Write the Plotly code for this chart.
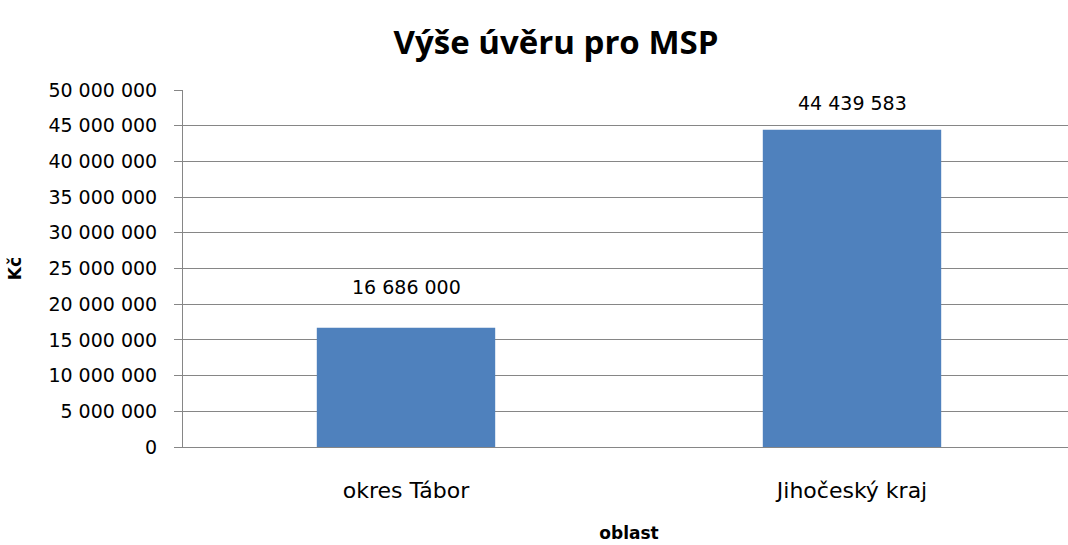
import plotly.graph_objects as go

categories = ["okres Tábor", "Jihočeský kraj"]
values = [16686000, 44439583]
label_texts = ["16 686 000", "44 439 583"]
tick_vals = [0, 5000000, 10000000, 15000000, 20000000, 25000000, 30000000, 35000000, 40000000, 45000000, 50000000]

FONT = "DejaVu Sans, sans-serif"
label_shifts = [28, 14]

fig = go.Figure()
fig.add_trace(go.Bar(
    x=categories, y=values, width=0.4,
    marker=dict(color="#4F81BD", line=dict(width=0)),
    hoverinfo="skip",
))
for c, v, t, s in zip(categories, values, label_texts, label_shifts):
    fig.add_annotation(x=c, y=v, text=t, showarrow=False, yanchor="bottom",
                       yshift=s, font=dict(family=FONT, size=19, color="#000000"))

W, H = 1075, 545
fig.update_layout(
    width=W, height=H,
    margin=dict(l=183, r=0, t=90, b=98, autoexpand=False),
    paper_bgcolor="white", plot_bgcolor="white",
    separators=", ",
    showlegend=False,
    title=dict(text="<b>Výše úvěru pro MSP</b>", x=556 / W, xanchor="center",
               y=1 - 42 / H, yanchor="middle",
               font=dict(family="Open Sans, sans-serif", size=33, color="#000000")),
    font=dict(family=FONT, color="#000000"),
)
fig.update_yaxes(
    range=[0, 50000000], tickvals=tick_vals, tickformat=",d",
    showgrid=True, gridcolor="#868686", gridwidth=1,
    showline=True, linecolor="#868686", linewidth=1,
    ticks="outside", ticklen=8, tickcolor="#868686",
    tickfont=dict(family=FONT, size=19, color="#000000"),
    ticklabelstandoff=13,
    zeroline=False, automargin=False,
    title=dict(text="<b>Kč</b>", standoff=22,
               font=dict(family=FONT, size=17, color="#000000")),
)
fig.update_xaxes(
    showline=True, linecolor="#868686", linewidth=1,
    ticks="", tickfont=dict(family=FONT, size=22, color="#000000"),
    ticklabelstandoff=24, automargin=False,
    range=[-0.5, 1.5],
    title=dict(text="<b>oblast</b>", standoff=24,
               font=dict(family=FONT, size=17, color="#000000")),
)
fig.write_html(
    "out.html",
    config={"displayModeBar": False},
    post_script="document.body.style.margin='0';document.body.style.overflow='hidden';",
)
